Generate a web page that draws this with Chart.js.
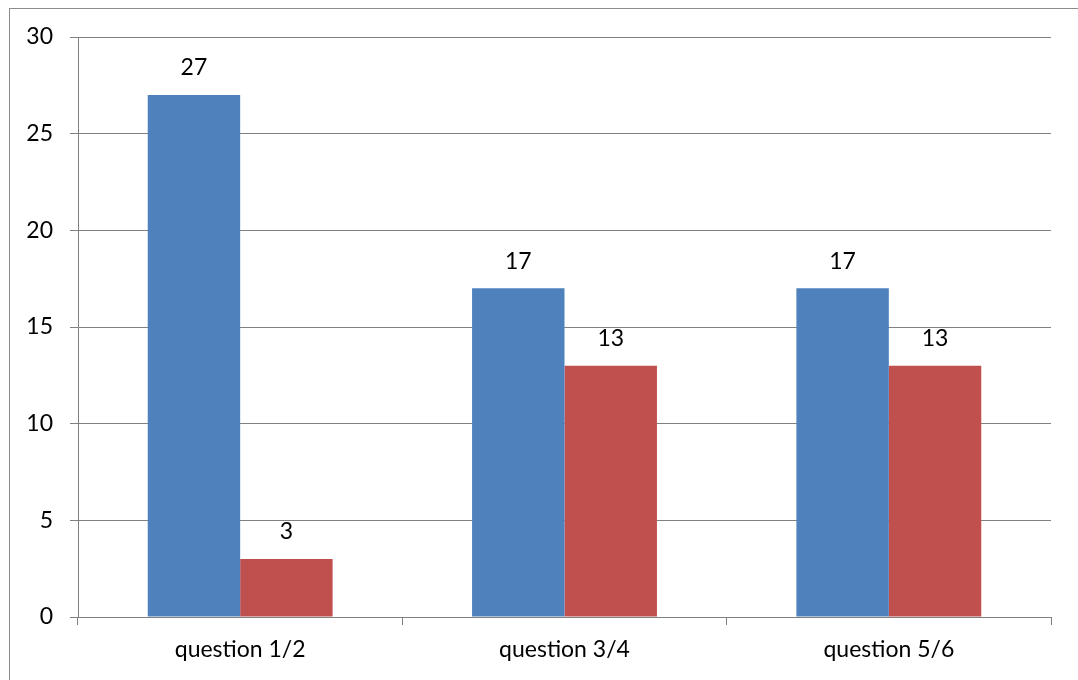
<!DOCTYPE html>
<html>
<head>
<meta charset="utf-8">
<script src="https://cdn.jsdelivr.net/npm/chart.js@4"></script>
<style>
  html, body { margin: 0; padding: 0; background: #fff; }
  #wrap { position: relative; width: 1078px; height: 680px; overflow: hidden; }
  #frame { position: absolute; left: 9px; top: 8px; width: 1200px; height: 800px;
           border-left: 1px solid #8c8c8c; border-top: 1px solid #8c8c8c; }
  canvas { position: absolute; left: 0; top: 0; }
</style>
</head>
<body>
<div id="wrap">
  <div id="frame"></div>
  <canvas id="chart" width="1078" height="680"></canvas>
</div>
<script>
const categories = ['question 1/2', 'question 3/4', 'question 5/6'];
const seriesA = [27, 17, 17];
const seriesB = [3, 13, 13];
const yTicks = [0, 5, 10, 15, 20, 25, 30];

const FONT = { family: 'Lato, "Open Sans", sans-serif', size: 23 };

// value labels above each bar
const barLabels = {
    id: 'barLabels',
    afterDatasetsDraw(chart) {
        const ctx = chart.ctx;
        ctx.save();
        ctx.font = FONT.size + 'px ' + FONT.family;
        ctx.fillStyle = '#000';
        ctx.textAlign = 'center';
        ctx.textBaseline = 'middle';
        chart.data.datasets.forEach((ds, i) => {
            chart.getDatasetMeta(i).data.forEach((bar, j) => {
                ctx.fillText(ds.data[j], bar.x, bar.y - 27);
            });
        });
        ctx.restore();
    }
};

new Chart(document.getElementById('chart'), {
    type: 'bar',
    data: {
        labels: categories,
        datasets: [
            { label: 'A', data: seriesA, backgroundColor: '#4F81BD' },
            { label: 'B', data: seriesB, backgroundColor: '#C0504D' }
        ]
    },
    options: {
        responsive: false,
        animation: false,
        events: [],
        categoryPercentage: 0.57,
        barPercentage: 1,
        layout: { padding: { left: 0, top: 37, right: 27, bottom: 0 } },
        plugins: { legend: { display: false }, tooltip: { enabled: false } },
        scales: {
            x: {
                grid: { offset: true, drawOnChartArea: false, color: '#808080', tickLength: 8 },
                border: { color: '#808080' },
                ticks: { color: '#000', font: FONT, padding: 11 },
                afterFit(s) { s.height = 63; }
            },
            y: {
                min: 0,
                max: 30,
                afterBuildTicks(s) { s.ticks = yTicks.map(v => ({ value: v })); },
                grid: { color: '#808080', tickLength: 8 },
                border: { color: '#808080' },
                ticks: { color: '#000', font: FONT, padding: 17 },
                afterFit(s) { s.width = 78; }
            }
        }
    },
    plugins: [barLabels]
});
</script>
</body>
</html>
